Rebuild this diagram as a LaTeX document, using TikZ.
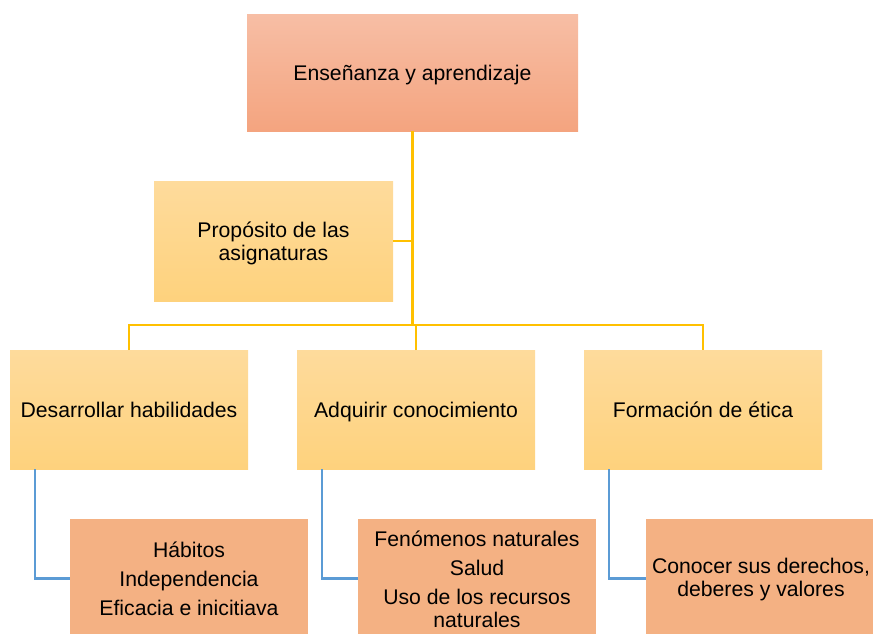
\documentclass[tikz,border=0pt]{standalone}
\usepackage{fontspec}
\setmainfont{Liberation Sans}
\usetikzlibrary{positioning}

\definecolor{salmonTop}{HTML}{F7BEA5}
\definecolor{salmonBot}{HTML}{F4A47F}
\definecolor{amarilloTop}{HTML}{FEDB9C}
\definecolor{amarilloBot}{HTML}{FED27D}
\definecolor{naranja}{HTML}{F4B183}
\definecolor{lineaAmarilla}{HTML}{FFC000}
\definecolor{lineaAzul}{HTML}{5B9BD5}

\begin{document}
\begin{tikzpicture}[x=1pt,y=1pt,node distance=49pt,line width=2.7pt]
  \tikzstyle{every node}=[font=\fontsize{21.2}{23}\selectfont,align=center,inner sep=0pt,outer sep=0pt]
  \tikzstyle{una linea}=[text height=21pt,text depth=4.5pt]
  \tikzstyle{raiz}=[rectangle,una linea,minimum width=331pt,minimum height=117pt,top color=salmonTop,bottom color=salmonBot]
  \tikzstyle{rama}=[rectangle,minimum width=238pt,minimum height=119pt,top color=amarilloTop,bottom color=amarilloBot]
  \tikzstyle{hoja}=[rectangle,minimum width=238pt,minimum height=119pt,fill=naranja]
  \tikzstyle{amarilla}=[draw=lineaAmarilla]
  \tikzstyle{azul}=[draw=lineaAzul]

  \useasboundingbox (0,0) rectangle (873,-633);

  % Boxes
  \node[raiz] (E) at (412.5,-72.5) {Enseñanza y aprendizaje};
  \node[rama, text depth=-1pt, minimum width=239pt, minimum height=120pt] (P) at (273.5,-241) {Propósito de las\\asignaturas};
  \node[rama, una linea] (D) at (129,-409.5) {Desarrollar habilidades};
  \node[rama, una linea] (A) [right=of D] {Adquirir conocimiento};
  \node[rama, una linea] (F) [right=of A] {Formación de ética};
  \node[hoja] (H) [below right=50pt and 60pt of D.south west] {Hábitos\\[6pt]Independencia\\[6pt]Eficacia e inicitiava};
  \node[hoja, minimum height=121pt] (N) [below right=50pt and 61pt of A.south west] {Fenómenos naturales\\[6pt]Salud\\[6pt]Uso de los recursos\\naturales};
  \node[hoja, minimum width=230pt, minimum height=122pt] (C) [below right=50pt and 62pt of F.south west] {Conocer sus derechos,\\deberes y valores};

  % Connectors
  \coordinate (bus) at (0,-325);
  \draw[amarilla] (E.south) -- (E.south |- bus);
  \draw[amarilla] (P.east) -- (P.east -| E.south);
  \draw[amarilla] (D.north) -- (D.north |- bus) -- (F.north |- bus) -- (F.north);
  \draw[amarilla] (A.north) -- (A.north |- bus);

  \foreach \r/\h in {D/H,A/N,F/C}
    \draw[azul] ([xshift=25pt]\r.south west) |- (\h.west |- H.west);

\end{tikzpicture}
\end{document}
